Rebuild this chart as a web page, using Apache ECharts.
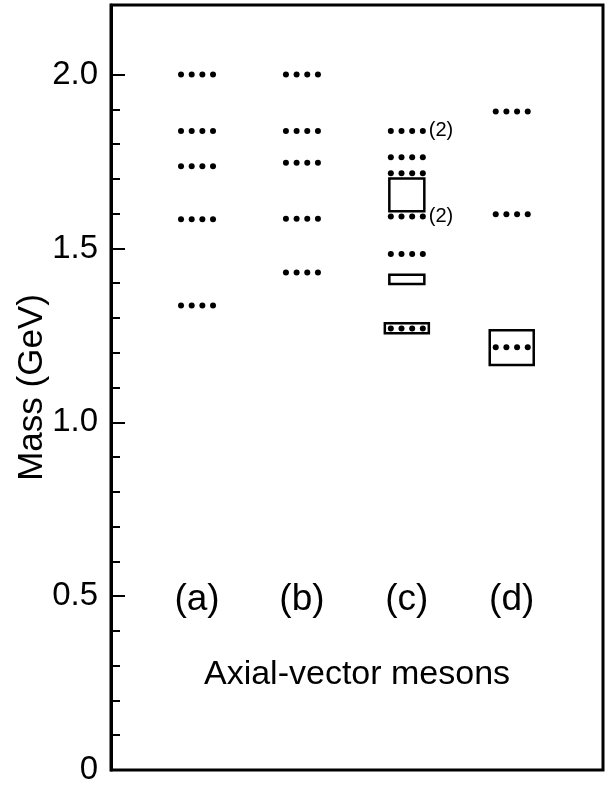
<!DOCTYPE html>
<html><head><meta charset="utf-8">
<script src="https://cdn.jsdelivr.net/npm/echarts@6/dist/echarts.min.js"></script>
<style>html,body{margin:0;padding:0;background:#fff}#c{width:613px;height:787px}</style>
</head><body><div id="c"></div>
<script>
// ---- data ----
const categories = ['(a)', '(b)', '(c)', '(d)'];
const colA = [2.000, 1.838, 1.736, 1.584, 1.336];
const colB = [2.000, 1.838, 1.746, 1.585, 1.431];
const colC = [1.838, 1.762, 1.716, 1.592, 1.484, 1.270];
const colCNotes = ['(2)', '', '', '(2)', '', ''];
const colD = [1.894, 1.598, 1.216];
const boxColumn = [3, 3, 3, 4];
const boxLow = [1.607, 1.398, 1.256, 1.165];
const boxHigh = [1.701, 1.424, 1.285, 1.265];
const majorTicks = [0, 0.5, 1.0, 1.5, 2.0];
const majorTickLabels = ['0', '0.5', '1.0', '1.5', '2.0'];
const minorTicks = [0.1, 0.2, 0.3, 0.4, 0.6, 0.7, 0.8, 0.9, 1.1, 1.2, 1.3, 1.4, 1.6, 1.7, 1.8, 1.9];
const yName = 'Mass (GeV)';
const xTitle = 'Axial-vector mesons';

// ---- build ----
const FONT = '"Liberation Sans", Arial, Helvetica, sans-serif';
const dotData = [], dotNotes = [];
[colA, colB, colC, colD].forEach((col, i) => {
  col.forEach((m, j) => {
    dotData.push([i + 1, m]);
    dotNotes.push(i === 2 ? colCNotes[j] : '');
  });
});
const boxData = boxColumn.map((c, i) => [c, boxLow[i], boxHigh[i]]);
const boxWidthPx = [35, 35, 44, 44];
const labelLevel = 0.5;
const catData = categories.map((c, i) => [i + 1, labelLevel]);

const chart = echarts.init(document.getElementById('c'), null, {renderer: 'canvas'});
chart.setOption({
  animation: false,
  backgroundColor: '#fff',
  grid: {left: 111, right: 10, top: 5, bottom: 17, show: true, borderColor: '#000', borderWidth: 3, backgroundColor: 'transparent'},
  xAxis: {type: 'value', min: 0.18, max: 4.87, show: false},
  yAxis: [{
    type: 'value', min: 0, max: 2.2, position: 'left',
    name: yName, nameLocation: 'middle', nameGap: 61, nameRotate: 90, nameMoveOverlap: false,
    nameTextStyle: {fontFamily: FONT, fontSize: 35, color: '#000'},
    axisLine: {show: true, lineStyle: {color: '#000', width: 3}},
    axisTick: {show: true, inside: true, length: 14, customValues: majorTicks, lineStyle: {color: '#000', width: 2}},
    axisLabel: {show: true, margin: 13, customValues: majorTicks, fontFamily: FONT, fontSize: 33, color: '#000',
      formatter: v => majorTickLabels[majorTicks.indexOf(v)] ?? ''},
    splitLine: {show: false}
  }, {
    type: 'value', min: 0, max: 2.2, position: 'left', offset: 0,
    axisLine: {show: false},
    axisTick: {show: true, inside: true, length: 9, customValues: minorTicks, lineStyle: {color: '#000', width: 2}},
    axisLabel: {show: false},
    splitLine: {show: false}
  }],
  graphic: [{
    type: 'text', x: 357, y: 675,
    style: {text: xTitle, font: '34px ' + FONT, fill: '#000', align: 'center', verticalAlign: 'middle'}
  }],
  series: [{
    type: 'custom', data: boxData, z: 2,
    renderItem(params, api) {
      const top = api.coord([api.value(0), api.value(2)]);
      const bot = api.coord([api.value(0), api.value(1)]);
      const w = boxWidthPx[params.dataIndex];
      return {type: 'rect', shape: {x: top[0] - w / 2, y: top[1], width: w, height: bot[1] - top[1]},
        style: {fill: 'none', stroke: '#000', lineWidth: 2.5}};
    }
  }, {
    type: 'custom', data: dotData, z: 3,
    renderItem(params, api) {
      const p = api.coord([api.value(0), api.value(1)]);
      const children = [-16, -5.33, 5.33, 16].map(dx => ({
        type: 'circle', shape: {cx: p[0] + dx, cy: p[1], r: 3}, style: {fill: '#000'}
      }));
      const note = dotNotes[params.dataIndex];
      if (note) children.push({type: 'text', style: {text: note, x: p[0] + 22, y: p[1], align: 'left', verticalAlign: 'middle', font: '20px ' + FONT, fill: '#000'}});
      return {type: 'group', children};
    }
  }, {
    type: 'custom', data: catData, z: 3,
    renderItem(params, api) {
      const p = api.coord([api.value(0), api.value(1)]);
      return {type: 'text', style: {text: categories[params.dataIndex], x: p[0], y: p[1] + 4, align: 'center', verticalAlign: 'middle', font: '37px ' + FONT, fill: '#000'}};
    }
  }]
});
</script></body></html>
